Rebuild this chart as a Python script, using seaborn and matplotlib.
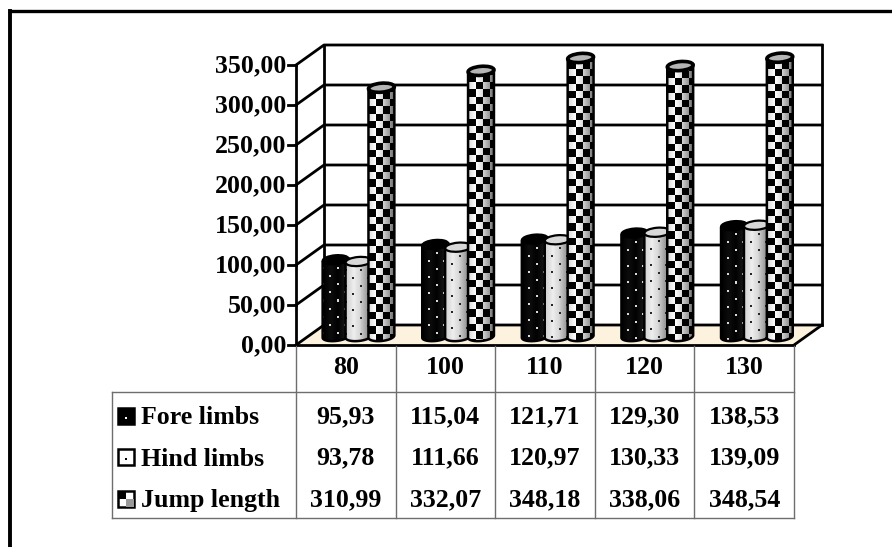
import matplotlib
matplotlib.use("Agg")
import matplotlib.pyplot as plt
from matplotlib.patches import Ellipse, PathPatch, Polygon, Rectangle
from matplotlib.path import Path
import numpy as np
import pandas as pd
import seaborn as sns

# data
groups = ["80", "100", "110", "120", "130"]
fore_limbs = [95.93, 115.04, 121.71, 129.30, 138.53]
hind_limbs = [93.78, 111.66, 120.97, 130.33, 139.09]
jump_length = [310.99, 332.07, 348.18, 338.06, 348.54]
series_names = ["Fore limbs", "Hind limbs", "Jump length"]
y_ticks = [0, 50, 100, 150, 200, 250, 300, 350]

df = pd.DataFrame({
    "group": groups * 3,
    "series": np.repeat(series_names, 5),
    "value": fore_limbs + hind_limbs + jump_length,
})

# setup (all in image pixels)
W, H = 892, 547
front_l, front_r, front_b, front_t = 296, 794, 345, 65
dx, dy = 28, -20
bar_zero, bar_left, bar_right = 336.5, 308.7, 806.7
px_per_unit = 0.8
black = "#000000"
grey = "#6e6e6e"
font = "Liberation Serif"
fs = 18.6

sns.set_theme(style="white")
fig = plt.figure(figsize=(W / 100, H / 100), dpi=100)

# background axes in pixel coordinates, holds walls and table
bg = fig.add_axes([0, 0, 1, 1], zorder=0)
bg.set_xlim(0, W)
bg.set_ylim(H, 0)
bg.axis("off")


def line(xs, ys, lw=2.0, color=black):
    bg.plot(xs, ys, color=color, lw=lw, solid_capstyle="projecting", clip_on=False)


# outer frame, only left and top reach into the image
line([10, 10], [547, 11], lw=2.8)
line([10, 892], [11, 11], lw=2.4)

# floor and walls
bg.add_patch(Polygon(
    [(front_l, front_b), (front_r, front_b), (front_r + dx, front_b + dy), (front_l + dx, front_b + dy)],
    facecolor="#fdf2de", edgecolor="none",
))
for t in y_ticks:
    y = front_b - t * px_per_unit
    line([front_l, front_l + dx, front_r + dx], [y, y + dy, y + dy])
    line([front_l - 8, front_l], [y, y])
    bg.text(front_l - 10, y + 1, f"{t},00", ha="right", va="center", family=font, fontsize=fs, weight="bold", color=black)
line([front_l, front_l], [front_t, front_b])
line([front_l + dx, front_l + dx], [front_t + dy, front_b + dy])
line([front_r + dx, front_r + dx], [front_t + dy, front_b + dy])
line([front_l, front_r], [front_b, front_b])
line([front_r, front_r + dx], [front_b, front_b + dy])

# table
col_w = (front_r - front_l) / 5
table_top, table_bottom, table_left = 392, 518, 112
for i in range(6):
    x = front_l + i * col_w
    line([x, x], [front_b + 1, table_bottom], lw=1, color=grey)
line([table_left, front_r], [table_top, table_top], lw=1, color=grey)
line([table_left, front_r], [table_bottom, table_bottom], lw=1, color=grey)
line([table_left, table_left], [table_top, table_bottom], lw=1, color=grey)
for i, g in enumerate(groups):
    bg.text(front_l + (i + 0.5) * col_w, 368, g, ha="center", va="center", family=font, fontsize=fs, weight="bold", color=black)
row_y = [417, 458, 500]
for name, vals, y in zip(series_names, [fore_limbs, hind_limbs, jump_length], row_y):
    bg.text(141, y + 1, name, ha="left", va="center", family=font, fontsize=fs, weight="bold", color=black)
    for i, v in enumerate(vals):
        bg.text(front_l + (i + 0.5) * col_w, y, f"{v:.2f}".replace(".", ","), ha="center", va="center",
                family=font, fontsize=fs, weight="bold", color=black)

# legend keys
for y, kind in zip(row_y, ["fore", "hind", "jump"]):
    x0, y0, s = 118, y - 9, 16
    bg.add_patch(Rectangle((x0, y0), s, s, facecolor=black if kind == "fore" else "white", edgecolor=black, lw=1.8))
    if kind == "jump":
        bg.add_patch(Rectangle((x0, y0), s / 2, s / 2, facecolor=black, edgecolor="none"))
        bg.add_patch(Rectangle((x0 + s / 2, y0 + s / 2), s / 2, s / 2, facecolor="#9a9a9a", edgecolor="none"))
    else:
        bg.add_patch(Rectangle((x0 + 7, y0 + 9), 2, 2, facecolor="white" if kind == "fore" else black, edgecolor="none"))

# bars axes, lined up with the pixel grid
y_max = 350
ax = fig.add_axes(
    [bar_left / W, 1 - bar_zero / H, (bar_right - bar_left) / W, y_max * px_per_unit / H],
    zorder=1,
)
sns.barplot(data=df, x="group", y="value", hue="series", order=groups, hue_order=series_names,
            width=0.69, dodge=True, legend=False, ax=ax, errorbar=None)
ax.set_xlim(-0.5, 4.5)
ax.set_ylim(0, y_max)
ax.axis("off")
ax.patch.set_alpha(0)


def shading(w, base):
    # horizontal light profile of the cylinder
    u = np.linspace(0, 1, w)
    return base[0] + (base[1] - base[0]) * np.clip(1 - np.abs(u - 0.3) / 0.3, 0, 1) - base[2] * np.clip((u - 0.55) / 0.45, 0, 1)


def texture(w, h, kind):
    yy, xx = np.mgrid[0:h, 0:w]
    if kind == 2:
        cell = 7.3
        check = ((xx // cell + (yy + 3) // cell) % 2) == 0
        light = shading(w, (0.85, 1.0, 0.4))[None, :].repeat(h, axis=0)
        return np.where(check, light, 0.0)
    dots = (((yy % 16) < 2) & ((xx % 15) >= 6) & ((xx % 15) < 8)) | (((yy % 16 - 8) % 16 < 2) & (((xx + 7) % 15) >= 6) & (((xx + 7) % 15) < 8))
    if kind == 0:
        img = shading(w, (0.0, 0.05, -0.12))[None, :].repeat(h, axis=0)
        img[dots] = 0.85
        return img
    img = shading(w, (0.82, 0.93, 0.35))[None, :].repeat(h, axis=0)
    img[dots] = 0.15
    return img


# turn the flat bars into textured cylinders
n_groups = len(groups)
half_h = 4.5
grow = 1.5
for k, patch in enumerate(ax.patches[: 3 * n_groups]):
    kind = k // n_groups
    x0, x1 = patch.get_x(), patch.get_x() + patch.get_width()
    val = patch.get_height()
    patch.set_visible(False)
    to_px = bg.transData.inverted().transform
    (pl, pb), (pr, pt) = to_px(ax.transData.transform([(x0, 0), (x1, val)]))
    pl, pr = pl - grow, pr + grow
    cx, w = (pl + pr) / 2, pr - pl
    # outline path: straight sides plus round foot
    t = np.linspace(np.pi, 0, 30)
    foot = np.column_stack([cx + w / 2 * np.cos(t), pb + half_h * np.sin(t) - 1.2 * np.cos(t)])
    verts = np.vstack([[(pl, pt + 1.2)], foot, [(pr, pt - 1.2)], [(pl, pt + 1.2)]])
    z = 3 + k // n_groups
    outline = Path(verts)
    img = texture(int(round(w)), int(round(pb + half_h - pt)), kind)
    im = ax.imshow(img, cmap="gray", vmin=0, vmax=1, aspect="auto", interpolation="nearest",
                   extent=(x0 - grow / 99.6, x1 + grow / 99.6, -half_h / px_per_unit, val), zorder=z)
    im.set_clip_box(fig.bbox)
    im.set_clip_path(outline, transform=bg.transData)
    ax.add_patch(PathPatch(outline, facecolor="none", edgecolor=black, lw=1.8, transform=bg.transData,
                           zorder=z + 0.1, clip_on=False))
    top_color = black if kind == 0 else ("#d8d8d8" if kind == 1 else "#b5b5b5")
    ax.add_patch(Ellipse((cx, pt), w, 2 * half_h, angle=-5, facecolor=top_color, edgecolor=black,
                         lw=2.6 if kind == 2 else 1.6, transform=bg.transData, zorder=z + 0.2, clip_on=False))
ax.set_xlim(-0.5, 4.5)
ax.set_ylim(0, y_max)

fig.savefig("out.png", dpi=100)
